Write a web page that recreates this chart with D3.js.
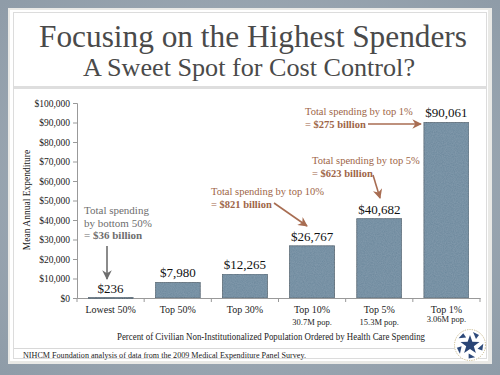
<!DOCTYPE html>
<html><head><meta charset="utf-8">
<script src="https://cdn.jsdelivr.net/npm/d3@7"></script>
<style>html,body{margin:0;padding:0;background:#9aa7b2;}svg{display:block;}svg text{font-family:"Liberation Serif","Times New Roman",serif;}</style>
</head><body>
<svg id="c" width="500" height="375"></svg>
<script>
const categories = ["Lowest 50%", "Top 50%", "Top 30%", "Top 10%", "Top 5%", "Top 1%"];
const subLabels = ["", "", "", "30.7M pop.", "15.3M pop.", "3.06M pop."];
const values = [236, 7980, 12265, 26767, 40682, 90061];
const valueLabels = ["$236", "$7,980", "$12,265", "$26,767", "$40,682", "$90,061"];
const yTicks = [0, 10000, 20000, 30000, 40000, 50000, 60000, 70000, 80000, 90000, 100000];

const svg = d3.select("#c");
const serif = "Liberation Serif, Times New Roman, serif";

// background
const defs = svg.append("defs");
const bg = defs.append("radialGradient").attr("id","bg").attr("cx","50%").attr("cy","50%").attr("r","70%");
bg.append("stop").attr("offset","0%").attr("stop-color","#aab5bf");
bg.append("stop").attr("offset","100%").attr("stop-color","#8f9ca8");
svg.append("rect").attr("width",500).attr("height",375).attr("fill","url(#bg)");

// texture filter for bars
const f = defs.append("filter").attr("id","tex").attr("x","0").attr("y","0").attr("width","1").attr("height","1");
f.append("feTurbulence").attr("type","fractalNoise").attr("baseFrequency","0.9").attr("numOctaves",2).attr("seed",3).attr("result","n");
f.append("feColorMatrix").attr("in","n").attr("type","matrix")
  .attr("values","0 0 0 0 0.42  0 0 0 0 0.53  0 0 0 0 0.62  0 0 0 0.3 0").attr("result","c");
f.append("feComposite").attr("in","c").attr("in2","SourceGraphic").attr("operator","atop");

// panel
svg.append("rect").attr("x",8).attr("y",8).attr("width",484).attr("height",356).attr("fill","#e9e9e6");
svg.append("rect").attr("x",10).attr("y",10).attr("width",478).attr("height",351).attr("fill","#fff");
svg.append("rect").attr("x",13.5).attr("y",12.5).attr("width",473).attr("height",346).attr("fill","none").attr("stroke","#dcdcdc").attr("stroke-width",1);
svg.append("rect").attr("x",14).attr("y",86).attr("width",472).attr("height",3).attr("fill","#dedede");
svg.append("line").attr("x1",14).attr("x2",486).attr("y1",348.5).attr("y2",348.5).attr("stroke","#d8d8d8");

function T(sel){ return sel.style("font-family", serif); }

// titles
T(svg.append("text")).attr("x",253).attr("y",47).attr("text-anchor","middle")
  .attr("font-size",31).attr("fill","#4a4a4a")
  .attr("textLength",428).attr("lengthAdjust","spacingAndGlyphs")
  .text("Focusing on the Highest Spenders");
T(svg.append("text")).attr("x",249).attr("y",76).attr("text-anchor","middle")
  .attr("font-size",25).attr("fill","#4a4a4a")
  .attr("textLength",332).attr("lengthAdjust","spacingAndGlyphs")
  .text("A Sweet Spot for Cost Control?");

// scales
const x = d3.scaleBand().domain(categories).range([77, 480]).paddingInner(0.33).paddingOuter(0.165);
const xb = d3.scaleBand().domain(categories).range([77, 480]);
const y = d3.scaleLinear().domain([0, 100000]).range([298, 103]);

// y axis
const ya = svg.append("g").attr("transform","translate(77,0)")
  .call(d3.axisLeft(y).tickValues(yTicks).tickSize(4).tickFormat(d => "$" + d3.format(",")(d)));
ya.attr("font-family", null);
ya.selectAll("path,line").attr("stroke","#999");
T(ya.selectAll("text")).attr("font-size",9.5).attr("fill","#1a1a1a").attr("x",-7);

// x axis
const xa = svg.append("g").attr("transform","translate(0,298)")
  .call(d3.axisBottom(xb).tickSize(0).tickSizeOuter(0).tickFormat(""));
xa.selectAll("path").attr("stroke","#999");
xa.selectAll(".tick").remove();
const bounds = categories.map(c => xb(c)).concat([480]);
svg.append("g").selectAll("line").data(bounds).join("line")
  .attr("x1",d=>d).attr("x2",d=>d).attr("y1",298).attr("y2",302).attr("stroke","#999");

// category labels
T(svg.append("g").selectAll("text").data(categories).join("text"))
  .attr("x", d => xb(d) + xb.bandwidth()/2).attr("y", 313).attr("text-anchor","middle")
  .attr("font-size",10).attr("fill","#222").text(d => d);
T(svg.append("g").selectAll("text").data(subLabels).join("text"))
  .attr("x", (d,i) => xb(categories[i]) + xb.bandwidth()/2).attr("y", (d,i) => i===5 ? 322 : 325).attr("text-anchor","middle")
  .attr("font-size",8.5).attr("fill","#222").text(d => d);

// bars
svg.append("g").selectAll("rect").data(values).join("rect")
  .attr("x",(d,i)=>x(categories[i])).attr("width",x.bandwidth())
  .attr("y",d=>y(d)).attr("height",d=>Math.max(1, y(0)-y(d)))
  .attr("fill","#6b879c").attr("stroke","#46545f").attr("stroke-width",0.8)
  .attr("filter","url(#tex)");

// value labels
T(svg.append("g").selectAll("text").data(values).join("text"))
  .attr("x",(d,i)=>xb(categories[i]) + xb.bandwidth()/2).attr("y",d=>y(d)-5).attr("text-anchor","middle")
  .attr("font-size",13).attr("fill","#111").text((d,i)=>valueLabels[i]);

// axis titles
T(svg.append("text")).attr("transform","translate(30,200) rotate(-90)").attr("text-anchor","middle")
  .attr("font-size",9.5).attr("fill","#222").text("Mean Annual Expenditure");
T(svg.append("text")).attr("x",271).attr("y",340).attr("text-anchor","middle")
  .attr("font-size",9.5).attr("fill","#222")
  .attr("textLength",308).attr("lengthAdjust","spacingAndGlyphs")
  .text("Percent of Civilian Non-Institutionalized Population Ordered by Health Care Spending");
T(svg.append("text")).attr("x",23).attr("y",358).attr("font-size",8.5).attr("fill","#222")
  .attr("textLength",283).attr("lengthAdjust","spacingAndGlyphs")
  .text("NIHCM Foundation analysis of data from the 2009 Medical Expenditure Panel Survey.");

// annotations
const gray = "#6e6e6e", brown = "#9e6547", brownA = "#a86d52";
["ag","ab"].forEach((id,k) => {
  defs.append("marker").attr("id",id).attr("viewBox","0 0 10 10").attr("refX",9).attr("refY",5)
    .attr("markerWidth",6).attr("markerHeight",6).attr("orient","auto-start-reverse")
    .append("path").attr("d","M0,0 L10,5 L0,10 L3,5 Z").attr("fill", k ? brownA : gray);
});
function note(xp, yp, lines, color, fs) {
  const t = T(svg.append("text")).attr("font-size",fs).attr("fill",color);
  lines.forEach((ln, i) => {
    const ts = t.append("tspan").attr("x",xp).attr("y",yp + i*12.5);
    ln.forEach(part => ts.append("tspan").attr("font-weight", part[1] ? "bold" : "normal").text(part[0]));
  });
}
note(84, 214, [[["Total spending",0]],[["by bottom 50%",0]],[["= ",0],["$36 billion",1]]], gray, 11);
svg.append("line").attr("x1",107).attr("y1",246).attr("x2",107).attr("y2",279).attr("stroke",gray).attr("stroke-width",1.6).attr("marker-end","url(#ag)");

note(211, 195, [[["Total spending by top 10%",0]],[["= ",0],["$821 billion",1]]], brown, 10.5);
svg.append("line").attr("x1",274).attr("y1",203).attr("x2",307).attr("y2",226).attr("stroke",brownA).attr("stroke-width",1.6).attr("marker-end","url(#ab)");

note(312, 164, [[["Total spending by top 5%",0]],[["= ",0],["$623 billion",1]]], brown, 10.5);
svg.append("line").attr("x1",373).attr("y1",175).attr("x2",380).attr("y2",198).attr("stroke",brownA).attr("stroke-width",1.6).attr("marker-end","url(#ab)");

note(305, 115, [[["Total spending by top 1%",0]],[["= ",0],["$275 billion",1]]], brown, 10.5);
svg.append("line").attr("x1",368).attr("y1",124).attr("x2",421).attr("y2",124).attr("stroke",brownA).attr("stroke-width",1.6).attr("marker-end","url(#ab)");

// logo
const lg = svg.append("g").attr("transform","translate(470,345)");
lg.append("circle").attr("r",15.5).attr("fill","#fff").attr("stroke","#c9b98a").attr("stroke-width",1).attr("stroke-dasharray","1.2,1.2");
for (let i=0;i<5;i++){
  lg.append("path").attr("d","M3,-13 L9,-10 L6,-6 Z").attr("fill","#2e4a7a").attr("transform","rotate("+(i*72)+")");
}
const star = d3.range(10).map(i => { const r = i%2 ? 4 : 10; const a = -Math.PI/2 + i*Math.PI/5; return [r*Math.cos(a), r*Math.sin(a)]; });
lg.append("path").attr("d", d3.line()(star) + "Z").attr("fill","#2a4575");
</script>
</body></html>
